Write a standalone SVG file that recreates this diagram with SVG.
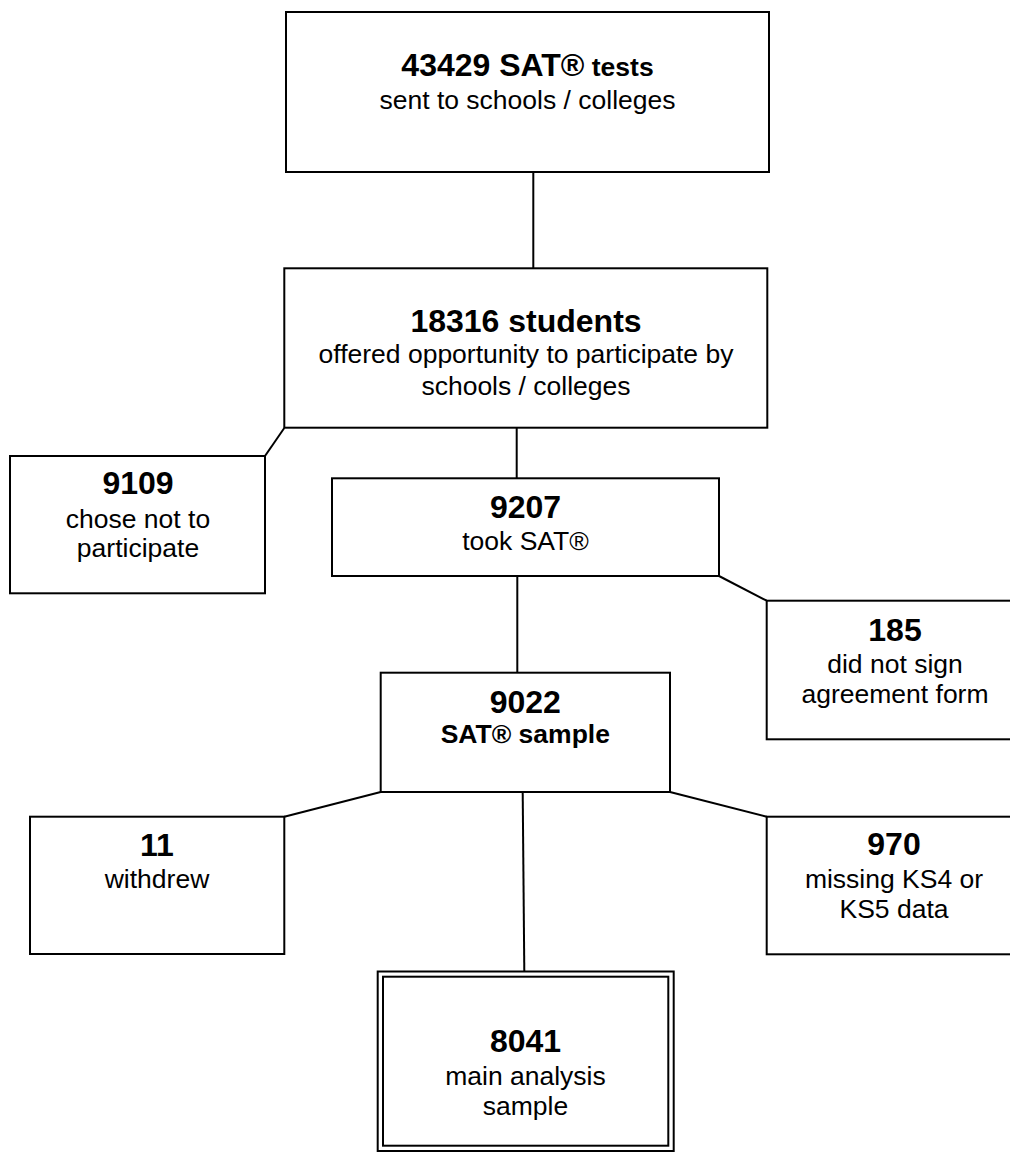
<svg xmlns="http://www.w3.org/2000/svg" width="1010" height="1153" viewBox="0 0 1010 1153">
<style>
.box{fill:#fff;stroke:#000;stroke-width:2}
.con{stroke:#000;stroke-width:2;fill:none}
text{font-family:"Liberation Sans",Arial,sans-serif;text-anchor:middle;fill:#000}
.b{font-weight:bold;font-size:32px}
.bs{font-weight:bold;font-size:26.5px}
.n{font-size:26.5px}
</style>
<rect width="1010" height="1153" fill="#fff"/>
<g id="connectors">
<line class="con" x1="533.3" y1="172" x2="533.3" y2="268"/>
<line class="con" x1="516.7" y1="428" x2="516.7" y2="478"/>
<line class="con" x1="284.3" y1="428" x2="265" y2="456"/>
<line class="con" x1="517.3" y1="576" x2="517.3" y2="672.7"/>
<line class="con" x1="719" y1="576" x2="766.7" y2="600.7"/>
<line class="con" x1="380.7" y1="792" x2="284.3" y2="816.7"/>
<line class="con" x1="670" y1="792" x2="766.7" y2="816.7"/>
<line class="con" x1="522.7" y1="792" x2="524.3" y2="971"/>
</g>
<g id="n43429">
<rect class="box" x="286" y="12" width="483" height="160"/>
<text x="527.5" y="76"><tspan class="b">43429 SAT®</tspan><tspan class="bs"> tests</tspan></text>
<text class="n" x="527.5" y="109">sent to schools / colleges</text>
</g>
<g id="n18316">
<rect class="box" x="284.3" y="268.3" width="483" height="159.4"/>
<text class="b" x="526" y="331.7">18316 students</text>
<text class="n" x="526" y="363.3">offered opportunity to participate by</text>
<text class="n" x="526" y="395">schools / colleges</text>
</g>
<g id="n9109">
<rect class="box" x="10" y="456" width="255" height="137.3"/>
<text class="b" x="138" y="494">9109</text>
<text class="n" x="138" y="528">chose not to</text>
<text class="n" x="138" y="557">participate</text>
</g>
<g id="n9207">
<rect class="box" x="332" y="478.3" width="387" height="97.7"/>
<text class="b" x="525.5" y="518.3">9207</text>
<text class="n" x="525.5" y="550">took SAT®</text>
</g>
<g id="n185">
<rect class="box" x="766.7" y="600.7" width="256" height="138.6"/>
<text class="b" x="895" y="641">185</text>
<text class="n" x="895" y="673.3">did not sign</text>
<text class="n" x="895" y="703.3">agreement form</text>
</g>
<g id="n9022">
<rect class="box" x="380.7" y="672.7" width="289.3" height="119.3"/>
<text class="b" x="525.3" y="713.3">9022</text>
<text class="bs" x="525.3" y="743.3">SAT® sample</text>
</g>
<g id="n11">
<rect class="box" x="30" y="816.7" width="254.3" height="137.3"/>
<text class="b" x="157" y="855.7">11</text>
<text class="n" x="157" y="888">withdrew</text>
</g>
<g id="n970">
<rect class="box" x="766.7" y="816.7" width="256" height="137.6"/>
<text class="b" x="894" y="855">970</text>
<text class="n" x="894" y="888.3">missing KS4 or</text>
<text class="n" x="894" y="918.3">KS5 data</text>
</g>
<g id="n8041">
<rect class="box" x="377.7" y="971.5" width="296" height="179.5"/>
<rect class="box" x="383" y="976.7" width="285.3" height="169"/>
<text class="b" x="525.5" y="1051.7">8041</text>
<text class="n" x="525.5" y="1085">main analysis</text>
<text class="n" x="525.5" y="1115">sample</text>
</g>
</svg>
